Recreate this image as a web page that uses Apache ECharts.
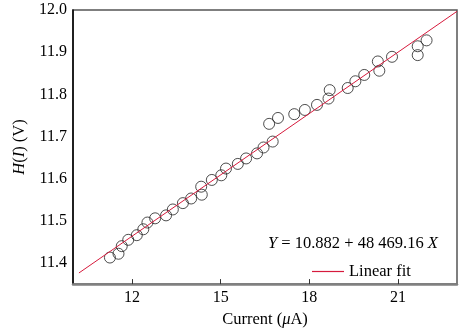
<!DOCTYPE html>
<html><head><meta charset="utf-8">
<script src="https://cdn.jsdelivr.net/npm/echarts@6/dist/echarts.min.js"></script>
<style>html,body{margin:0;padding:0;background:#fff}#c{width:472px;height:333px}</style>
</head><body><div id="c"></div>
<script>
var currentX = [11.25,11.54,11.65,11.87,12.16,12.38,12.52,12.78,13.15,13.38,13.72,14.00,14.34,14.36,14.70,15.02,15.18,15.58,15.86,16.23,16.45,16.76,16.64,16.94,17.49,17.85,18.26,18.65,18.69,19.30,19.56,19.86,20.32,20.37,20.80,21.67,21.67,21.97];
var hValues = [11.413,11.422,11.440,11.455,11.466,11.480,11.496,11.506,11.513,11.527,11.542,11.553,11.581,11.562,11.597,11.608,11.624,11.635,11.648,11.660,11.674,11.688,11.730,11.744,11.753,11.763,11.775,11.790,11.810,11.815,11.831,11.846,11.878,11.856,11.889,11.914,11.893,11.928];
var fitIntercept = 10.882;
var fitSlopePerMicroA = 0.04846916;
var fitRange = [10.2, 23];
var xTicks = [12, 15, 18, 21];
var yTicks = [11.4, 11.5, 11.6, 11.7, 11.8, 11.9, 12.0];

var pts = currentX.map(function(x,i){return [x,hValues[i]];});
var fitPts = fitRange.map(function(x){return [x, fitIntercept + fitSlopePerMicroA*x];});
var ff = '"Liberation Serif", "Times New Roman", serif';
var fs = 16.5;
var chart = echarts.init(document.getElementById('c'));
chart.setOption({
  animation:false,
  textStyle:{fontFamily:ff},
  grid:{left:73,right:15,top:10,bottom:42,show:true,borderColor:'#555',borderWidth:1.5,backgroundColor:'transparent'},
  xAxis:{type:'value',min:10,max:23,
    name:'Current ({i|μ}A)',nameLocation:'middle',nameGap:23,
    nameTextStyle:{fontFamily:ff,fontSize:fs,color:'#000',rich:{i:{fontFamily:ff,fontSize:fs,fontStyle:'italic',color:'#000'}}},
    axisLine:{show:true,lineStyle:{color:'#808080',width:2.5}},
    axisTick:{show:true,inside:true,length:5,customValues:xTicks,lineStyle:{color:'#333'}},
    axisLabel:{customValues:xTicks,fontFamily:ff,fontSize:16,color:'#000',margin:6},
    splitLine:{show:false}},
  yAxis:{type:'value',min:11.35,max:12.0,
    name:'{i|H}({i|I}) (V)',nameLocation:'middle',nameGap:40,
    nameTextStyle:{fontFamily:ff,fontSize:fs,color:'#000',rich:{i:{fontFamily:ff,fontSize:fs,fontStyle:'italic',color:'#000'}}},
    axisLine:{show:true,lineStyle:{color:'#000',width:1.5}},
    axisTick:{show:false},
    axisLabel:{customValues:yTicks,fontFamily:ff,fontSize:16,color:'#000',margin:6,formatter:function(v){return v.toFixed(1);}},
    splitLine:{show:false}},
  legend:{left:307,top:258,itemWidth:32,itemHeight:1.2,itemGap:5,
    textStyle:{fontFamily:ff,fontSize:fs,color:'#000'},
    data:[{name:'Linear fit',icon:'rect',itemStyle:{color:'#d61a3c'}}]},
  graphic:[{type:'text',left:268,top:235,style:{text:'{i|Y} = 10.882 + 48 469.16 {i|X}',font:fs+'px '+ff,fill:'#000',
    rich:{i:{fontFamily:ff,fontSize:fs,fontStyle:'italic',fill:'#000'}}}}],
  series:[
    {name:'Linear fit',type:'line',data:fitPts,symbol:'none',lineStyle:{color:'#d61a3c',width:1},itemStyle:{color:'#d61a3c'},z:3},
    {name:'data',type:'scatter',data:pts,symbol:'circle',symbolSize:11,itemStyle:{color:'rgba(255,255,255,0)',borderColor:'#222',borderWidth:1},z:2}
  ]
});
</script></body></html>
